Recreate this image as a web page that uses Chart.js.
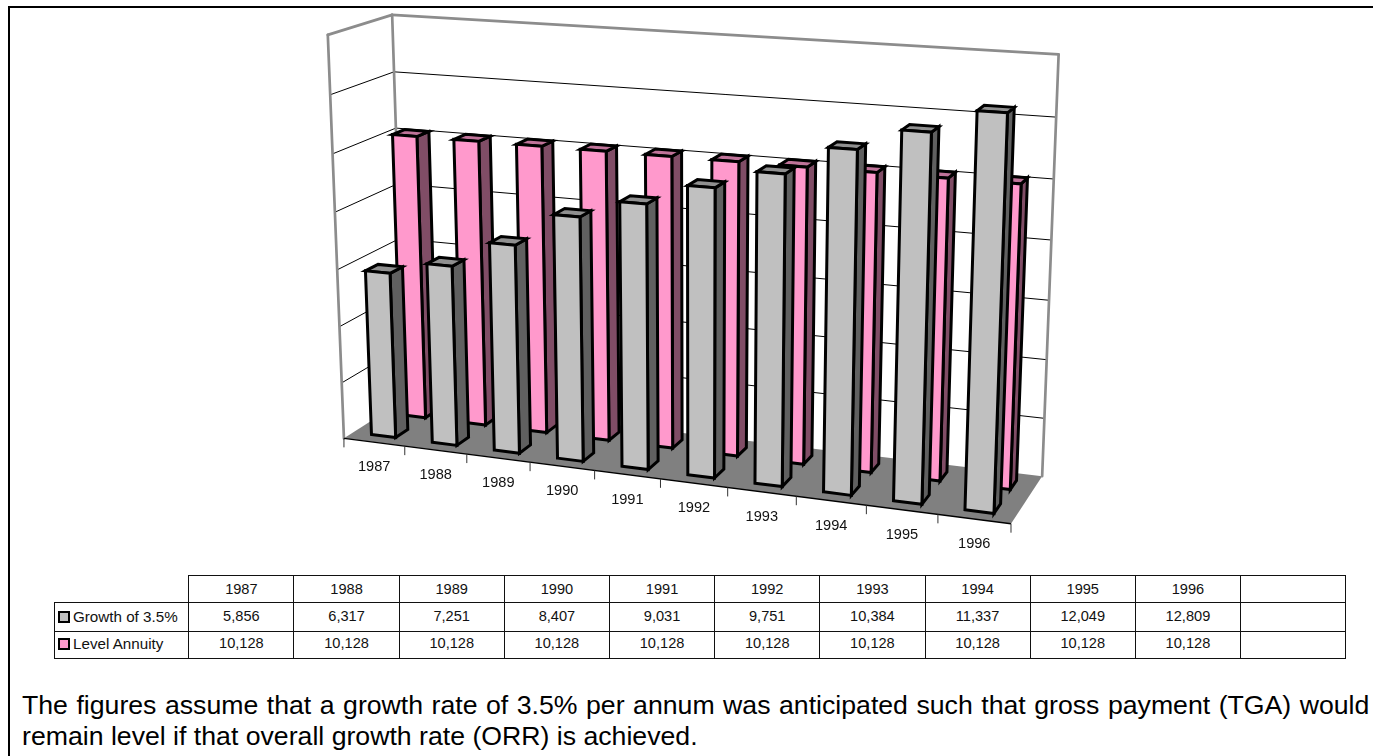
<!DOCTYPE html>
<html>
<head>
<meta charset="utf-8">
<title>Growth of 3.5% vs Level Annuity</title>
<script src="https://cdn.jsdelivr.net/npm/chart.js@4"></script>
<style>
  html, body { margin: 0; padding: 0; background: #fff; overflow: hidden; }
  body { width: 1373px; height: 756px; position: relative; font-family: "Liberation Sans", Arial, sans-serif; color: #111; }
  #frame-top { position: absolute; left: 8px; top: 6px; width: 1365px; height: 2px; background: #000; }
  #frame-left { position: absolute; left: 8px; top: 6px; width: 2px; height: 750px; background: #000; }
  canvas { position: absolute; left: 0; top: 0; }
  #data-table { position: absolute; left: 54px; top: 575px; border-collapse: collapse; table-layout: fixed; font-size: 14.6px; }
  #data-table td { border: 1px solid #111; padding: 0 0 2px 0; text-align: center; white-space: nowrap; overflow: hidden; }
  #data-table tr:first-child td { padding-bottom: 1px; }
  #data-table tr:nth-child(n+3) td { padding-bottom: 4px; }
  #data-table td.blank { border-top: none; border-left: none; }
  #data-table td.name { text-align: left; padding-left: 3px; font-size: 15.2px; }
  .key { display: inline-block; box-sizing: border-box; width: 12px; height: 12px; border: 2px solid #000; margin-right: 3px; vertical-align: -1px; }
  #note { position: absolute; left: 22px; top: 690px; font-size: 26.67px; line-height: 31px; white-space: nowrap; color: #000; }
  #note .first { word-spacing: 1.1px; }
</style>
</head>
<body>
<div id="frame-top"></div>
<div id="frame-left"></div>
<canvas id="chart" width="1373" height="560"></canvas>
<table id="data-table"></table>
<div id="note"><span class="first">The figures assume that a growth rate of 3.5% per annum was anticipated such that gross payment (TGA) would</span><br>remain level if that overall growth rate (ORR) is achieved.</div>
<script>
const years = ['1987','1988','1989','1990','1991','1992','1993','1994','1995','1996'];
const growth = [5856,6317,7251,8407,9031,9751,10384,11337,12049,12809];
const level = [10128,10128,10128,10128,10128,10128,10128,10128,10128,10128];
const seriesNames = ['Growth of 3.5%','Level Annuity'];
const faceColors = [
  { front: '#C0C0C0', side: '#606060', top: '#909090' },
  { front: '#FF99CC', side: '#804D66', top: '#BF7399' }
];

// Camera calibration: box coordinates (category, depth, height) and where they land on screen.
const anchors = [
  [0,0,0, 343.3,438], [1,0,0, 1011,523.3], [1,1,0, 1042,476], [0,1,0, 406,400],
  [0,0,1, 327.5,35], [0,1,1, 391.5,14.5], [1,1,1, 1059,54.5],
  [0,1,5/7, 395.5,128], [1,1,5/7, 1053.3,179], [0,0,6/7, 331,95], [0,0,5/7, 333.3,154],
  [0.1,0,0, 404,446], [0.2,0,0, 466.7,454.3], [0.3,0,0, 530,461.7], [0.9,0,0, 938.3,515]
];

function solve(A, b) {
  const n = b.length;
  for (let i = 0; i < n; i++) {
    let p = i;
    for (let r = i + 1; r < n; r++) if (Math.abs(A[r][i]) > Math.abs(A[p][i])) p = r;
    [A[i], A[p]] = [A[p], A[i]]; [b[i], b[p]] = [b[p], b[i]];
    for (let r = i + 1; r < n; r++) {
      const f = A[r][i] / A[i][i];
      for (let c = i; c < n; c++) A[r][c] -= f * A[i][c];
      b[r] -= f * b[i];
    }
  }
  const x = new Array(n).fill(0);
  for (let i = n - 1; i >= 0; i--) {
    let s = b[i];
    for (let c = i + 1; c < n; c++) s -= A[i][c] * x[c];
    x[i] = s / A[i][i];
  }
  return x;
}

// Least-squares fit of the 3x4 projection (last coefficient fixed to 1).
function fitProjection(pts) {
  const rows = [], rhs = [];
  for (const [u, v, w, sx, sy] of pts) {
    const X = sx / 1000, Y = sy / 1000;
    rows.push([u, v, w, 1, 0, 0, 0, 0, -X * u, -X * v, -X * w]); rhs.push(X);
    rows.push([0, 0, 0, 0, u, v, w, 1, -Y * u, -Y * v, -Y * w]); rhs.push(Y);
  }
  const N = Array.from({ length: 11 }, () => new Array(11).fill(0));
  const t = new Array(11).fill(0);
  rows.forEach((r, k) => {
    for (let i = 0; i < 11; i++) {
      t[i] += r[i] * rhs[k];
      for (let j = 0; j < 11; j++) N[i][j] += r[i] * r[j];
    }
  });
  return solve(N, t);
}
const M = fitProjection(anchors);
function project(u, v, w) {
  const d = M[8] * u + M[9] * v + M[10] * w + 1;
  return [1000 * (M[0] * u + M[1] * v + M[2] * w + M[3]) / d,
          1000 * (M[4] * u + M[5] * v + M[6] * w + M[7]) / d];
}
function poly(ctx, pts, fill, stroke, lw) {
  ctx.beginPath();
  pts.forEach((p, i) => i ? ctx.lineTo(p[0], p[1]) : ctx.moveTo(p[0], p[1]));
  ctx.closePath();
  if (fill) { ctx.fillStyle = fill; ctx.fill(); }
  if (stroke) { ctx.strokeStyle = stroke; ctx.lineWidth = lw; ctx.lineJoin = 'miter'; ctx.stroke(); }
}
function line(ctx, a, b, color, lw) {
  ctx.beginPath(); ctx.moveTo(a[0], a[1]); ctx.lineTo(b[0], b[1]);
  ctx.strokeStyle = color; ctx.lineWidth = lw; ctx.stroke();
}

const depthRows = [[0.15, 0.35], [0.65, 0.85]];

// Renders the box (walls, floor, grid, category axis) and the extruded columns
// from the positions the bar controller and the scales have computed.
const box3d = {
  id: 'box3d',
  beforeDatasetDraw() { return false; },
  beforeDatasetsDraw(chart) {
    const { ctx, chartArea: area, scales: { x, y } } = chart;
    const W = area.right - area.left, H = area.bottom - area.top;
    const n = years.length;

    poly(ctx, [project(0,0,0), project(0,1,0), project(0,1,1), project(0,0,1)], '#fff');
    poly(ctx, [project(0,1,0), project(1,1,0), project(1,1,1), project(0,1,1)], '#fff');
    poly(ctx, [project(0,0,0), project(1,0,0), project(1,1,0), project(0,1,0)], '#808080');

    y.ticks.forEach(tick => {
      const w = (area.bottom - y.getPixelForValue(tick.value)) / H;
      if (w <= 0 || w >= 1) return;
      line(ctx, project(0,0,w), project(0,1,w), '#000', 1);
      line(ctx, project(0,1,w), project(1,1,w), '#000', 1);
    });

    const wall = '#8C8C8C';
    ctx.lineCap = 'round';
    [[[0,0,0],[0,0,1]], [[0,0,1],[0,1,1]], [[0,1,1],[1,1,1]], [[1,1,1],[1,1,0]], [[0,1,1],[0,1,0]]]
      .forEach(([a, b]) => line(ctx, project(...a), project(...b), wall, 2.7));
    ctx.lineCap = 'butt';

    line(ctx, project(0,0,0), project(1,0,0), '#000', 1.4);
    for (let i = 0; i <= n; i++) {
      const u = (x.getPixelForValue(i - 0.5) - area.left) / W;
      const p = project(u, 0, 0);
      line(ctx, p, [p[0], p[1] + 9], '#333', 1);
    }
    ctx.fillStyle = '#111';
    ctx.font = '14.6px "Liberation Sans", Arial, sans-serif';
    ctx.textAlign = 'center';
    ctx.textBaseline = 'middle';
    x.getLabels().forEach((label, i) => {
      const p = project((x.getPixelForValue(i) - area.left) / W, 0, 0);
      ctx.fillText(label, p[0], p[1] + 25);
    });

    // Back row first so the front row overlaps it.
    for (let ds = chart.data.datasets.length - 1; ds >= 0; ds--) {
      const [v0, v1] = depthRows[ds];
      const c = faceColors[ds];
      chart.getDatasetMeta(ds).data.forEach(bar => {
        const u0 = (bar.x - bar.width / 2 - area.left) / W;
        const u1 = (bar.x + bar.width / 2 - area.left) / W;
        const w = (bar.base - bar.y) / H;
        poly(ctx, [project(u1,v0,0), project(u1,v1,0), project(u1,v1,w), project(u1,v0,w)], c.side, '#000', 3);
        poly(ctx, [project(u0,v0,w), project(u1,v0,w), project(u1,v1,w), project(u0,v1,w)], c.top, '#000', 3);
        poly(ctx, [project(u0,v0,0), project(u1,v0,0), project(u1,v0,w), project(u0,v0,w)], c.front, '#000', 3);
      });
    }
  }
};

new Chart(document.getElementById('chart'), {
  type: 'bar',
  data: {
    labels: years,
    datasets: [
      { label: seriesNames[0], data: growth, backgroundColor: faceColors[0].front, grouped: false, barPercentage: 0.4, categoryPercentage: 1 },
      { label: seriesNames[1], data: level, backgroundColor: faceColors[1].front, grouped: false, barPercentage: 0.4, categoryPercentage: 1 }
    ]
  },
  options: {
    responsive: false,
    animation: false,
    layout: { padding: 0 },
    plugins: { legend: { display: false }, tooltip: { enabled: false } },
    scales: {
      x: { ticks: { display: false }, grid: { display: false, drawTicks: false }, border: { display: false } },
      y: { min: 0, max: 14000, ticks: { display: false, stepSize: 2000 }, grid: { display: false, drawTicks: false }, border: { display: false } }
    }
  },
  plugins: [box3d]
});

// Data table under the plot, filled from the same arrays as the columns.
const fmt = v => v.toLocaleString('en-US');
const table = document.getElementById('data-table');
const colWidths = [134.3].concat(new Array(11).fill(105.18));
table.style.width = colWidths.reduce((a, b) => a + b, 0) + 'px';
const cg = document.createElement('colgroup');
colWidths.forEach(w => { const c = document.createElement('col'); c.style.width = w + 'px'; cg.appendChild(c); });
table.appendChild(cg);
function addRow(height, firstHtml, firstClass, values) {
  const tr = table.insertRow();
  tr.style.height = height + 'px';
  const first = tr.insertCell();
  first.className = firstClass;
  first.innerHTML = firstHtml;
  values.concat(['']).forEach(v => { tr.insertCell().textContent = v; });
}
addRow(27, '', 'blank', years);
addRow(29, `<span class="key" style="background:${faceColors[0].front}"></span>${seriesNames[0]}`, 'name', growth.map(fmt));
addRow(27, `<span class="key" style="background:${faceColors[1].front}"></span>${seriesNames[1]}`, 'name', level.map(fmt));
</script>
</body>
</html>
